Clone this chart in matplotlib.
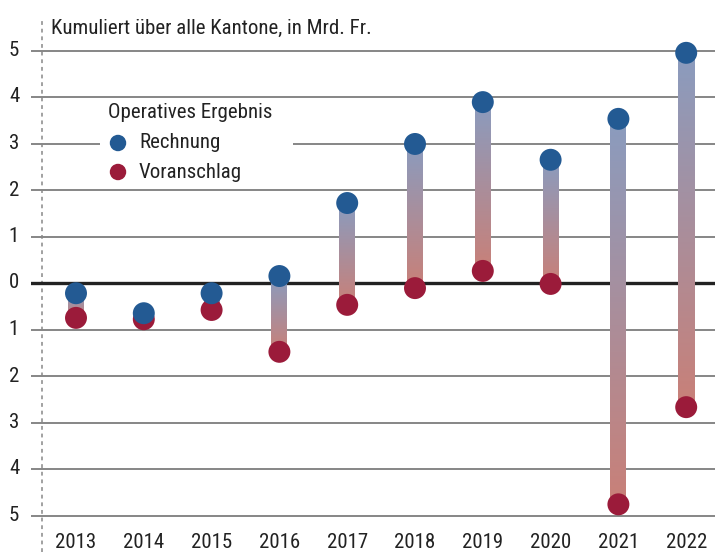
import matplotlib
matplotlib.use("Agg")
import matplotlib.pyplot as plt
import numpy as np
from matplotlib import font_manager
from matplotlib.colors import LinearSegmentedColormap
from matplotlib.patches import Rectangle

# Daten: operatives Ergebnis, kumuliert über alle Kantone (Mrd. Fr.)
years = ["2013", "2014", "2015", "2016", "2017", "2018", "2019", "2020", "2021", "2022"]
rechnung = [-0.22, -0.65, -0.22, 0.15, 1.72, 2.99, 3.89, 2.65, 3.53, 4.95]
voranschlag = [-0.75, -0.78, -0.58, -1.48, -0.47, -0.11, 0.26, -0.02, -4.76, -2.67]
y_ticks = [-5, -4, -3, -2, -1, 0, 1, 2, 3, 4, 5]

BLUE = "#235a93"
RED = "#9b1b3a"
TEXT = "#222222"
FS = 15

names = {f.name for f in font_manager.fontManager.ttflist}
fam = "Roboto Condensed" if "Roboto Condensed" in names else "Roboto"
plt.rcParams["font.family"] = [fam, "DejaVu Sans"]

grad = LinearSegmentedColormap.from_list("grad", ["#8a9cbf", "#c98078"])

W, H = 715, 552
fig = plt.figure(figsize=(W / 100, H / 100), dpi=100)
left = 31
ax = fig.add_axes([left / W, 0, (W - left) / W, 1])

px_x, x0 = 67.8, 76
px_y, y0 = 46.5, 283
ax.set_xlim((left - x0) / px_x, (W - x0) / px_x)
ax.set_ylim((y0 - H) / px_y, y0 / px_y)

for s in ax.spines.values():
    s.set_visible(False)
ax.set_xticks([])
ax.set_yticks([])

# Gitterlinien
for t in y_ticks:
    if t == 0:
        ax.axhline(t, color="#222222", lw=2.4, zorder=2)
    else:
        ax.axhline(t, color="#666666", lw=1.1, zorder=1)
    ax.text((14 - x0) / px_x, t, str(abs(t)), ha="center", va="center",
            fontsize=FS, color=TEXT)

# gepunktete Linie links
ax.plot([-0.5, -0.5], [(y0 - H) / px_y, (y0 - 18) / px_y], color="#888888",
        lw=1.1, ls=(0, (2.5, 2.5)), zorder=1)

x = np.arange(len(years))
half = 8 / px_x
g = np.linspace(0, 1, 256).reshape(-1, 1)
for xi, r, v in zip(x, rechnung, voranschlag):
    lo, hi = min(r, v), max(r, v)
    ax.imshow(g, cmap=grad, extent=[xi - half, xi + half, lo, hi],
              aspect="auto", origin="upper", zorder=3, interpolation="bilinear")
    ax.text(xi, (y0 - 542) / px_y, years[xi], ha="center", va="center",
            fontsize=FS, color=TEXT)

ax.scatter(x, voranschlag, s=250, color=RED, zorder=4, edgecolors="none")
ax.scatter(x, rechnung, s=250, color=BLUE, zorder=5, edgecolors="none")

ax.set_xlim((left - x0) / px_x, (W - x0) / px_x)
ax.set_ylim((y0 - H) / px_y, y0 / px_y)

# Legende
ax.add_patch(Rectangle(((100 - x0) / px_x, (y0 - 184) / px_y),
                       193 / px_x, 80 / px_y, facecolor="white",
                       edgecolor="none", zorder=2.5))
ax.text((108 - x0) / px_x, (y0 - 113) / px_y, "Operatives Ergebnis",
        ha="left", va="center", fontsize=FS, color=TEXT, zorder=6)
ax.scatter([(118 - x0) / px_x], [(y0 - 143) / px_y], s=140, color=BLUE,
           zorder=6, edgecolors="none")
ax.scatter([(118 - x0) / px_x], [(y0 - 172) / px_y], s=140, color=RED,
           zorder=6, edgecolors="none")
ax.text((139 - x0) / px_x, (y0 - 143) / px_y, "Rechnung", ha="left",
        va="center", fontsize=FS, color=TEXT, zorder=6)
ax.text((139 - x0) / px_x, (y0 - 172) / px_y, "Voranschlag", ha="left",
        va="center", fontsize=FS, color=TEXT, zorder=6)

ax.text((51 - x0) / px_x, (y0 - 28) / px_y, "Kumuliert über alle Kantone, in Mrd. Fr.",
        ha="left", va="center", fontsize=FS, color=TEXT)

fig.savefig("out.png", dpi=100)
